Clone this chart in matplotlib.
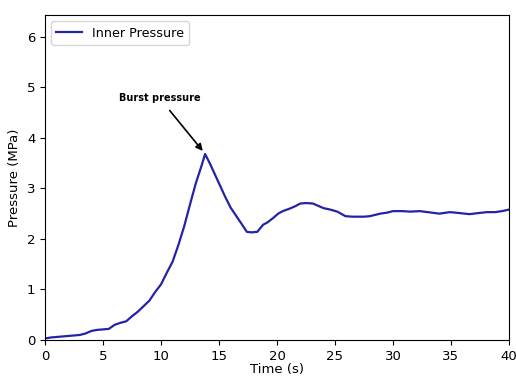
import matplotlib.pyplot as plt

# inner pressure trace (time in s, pressure in MPa)
time_s = [0, 0.5, 1.0, 1.5, 2.0, 2.5, 3.0, 3.5, 4.0, 4.5, 5.0, 5.5,
          6.0, 6.5, 7.0, 7.5, 8.0, 8.5, 9.0, 9.5, 10.0, 10.5, 11.0,
          11.5, 12.0, 12.5, 13.0, 13.5, 13.8, 14.2, 14.6, 15.0, 15.5,
          16.0, 16.5, 17.0, 17.4, 17.8, 18.3, 18.8, 19.2, 19.7, 20.1,
          20.5, 21.1, 21.6, 22.0, 22.5, 23.1, 23.6, 24.0, 24.6, 25.2,
          25.9, 26.5, 27.0, 27.5, 28.0, 28.9, 29.5, 30.0, 30.8, 31.5,
          32.3, 33.0, 34.0, 34.9, 35.8, 36.6, 37.3, 38.1, 38.8, 39.4, 40.0]
pressure = [0.03, 0.05, 0.06, 0.07, 0.08, 0.09, 0.10, 0.13, 0.18, 0.20,
            0.21, 0.22, 0.30, 0.34, 0.37, 0.47, 0.56, 0.67, 0.78, 0.95,
            1.10, 1.33, 1.55, 1.88, 2.25, 2.68, 3.10, 3.45, 3.68, 3.50,
            3.30, 3.10, 2.85, 2.62, 2.45, 2.28, 2.14, 2.13, 2.14, 2.28,
            2.33, 2.42, 2.50, 2.55, 2.60, 2.65, 2.70, 2.71, 2.70, 2.65,
            2.61, 2.58, 2.54, 2.45, 2.44, 2.44, 2.44, 2.45, 2.50, 2.52,
            2.55, 2.55, 2.54, 2.55, 2.53, 2.50, 2.53, 2.51, 2.49, 2.51,
            2.53, 2.53, 2.55, 2.58]

fig = plt.figure(figsize=(5.16, 3.76), dpi=100)
ax = fig.add_axes([0.0872, 0.0957, 0.8992, 0.8644])

ax.plot(time_s, pressure, color='#2323a8', lw=1.6, label='Inner Pressure')
ax.annotate('Burst pressure', xy=(13.6, 3.74), xytext=(9.9, 4.78),
            ha='center', va='center', fontsize=7, fontweight='bold',
            arrowprops=dict(arrowstyle='-|>', color='black', lw=1.2,
                            mutation_scale=10, shrinkA=4, shrinkB=0))

ax.set_xlim(0, 40)
ax.set_ylim(0, 6.43)
ax.set_xlabel('Time (s)', fontsize=9.5, labelpad=0)
ax.set_ylabel('Pressure (MPa)', fontsize=9.5)
ax.tick_params(labelsize=9.5)
ax.legend(loc='upper left', fontsize=9.2)

fig.savefig('out.png', dpi=100)
